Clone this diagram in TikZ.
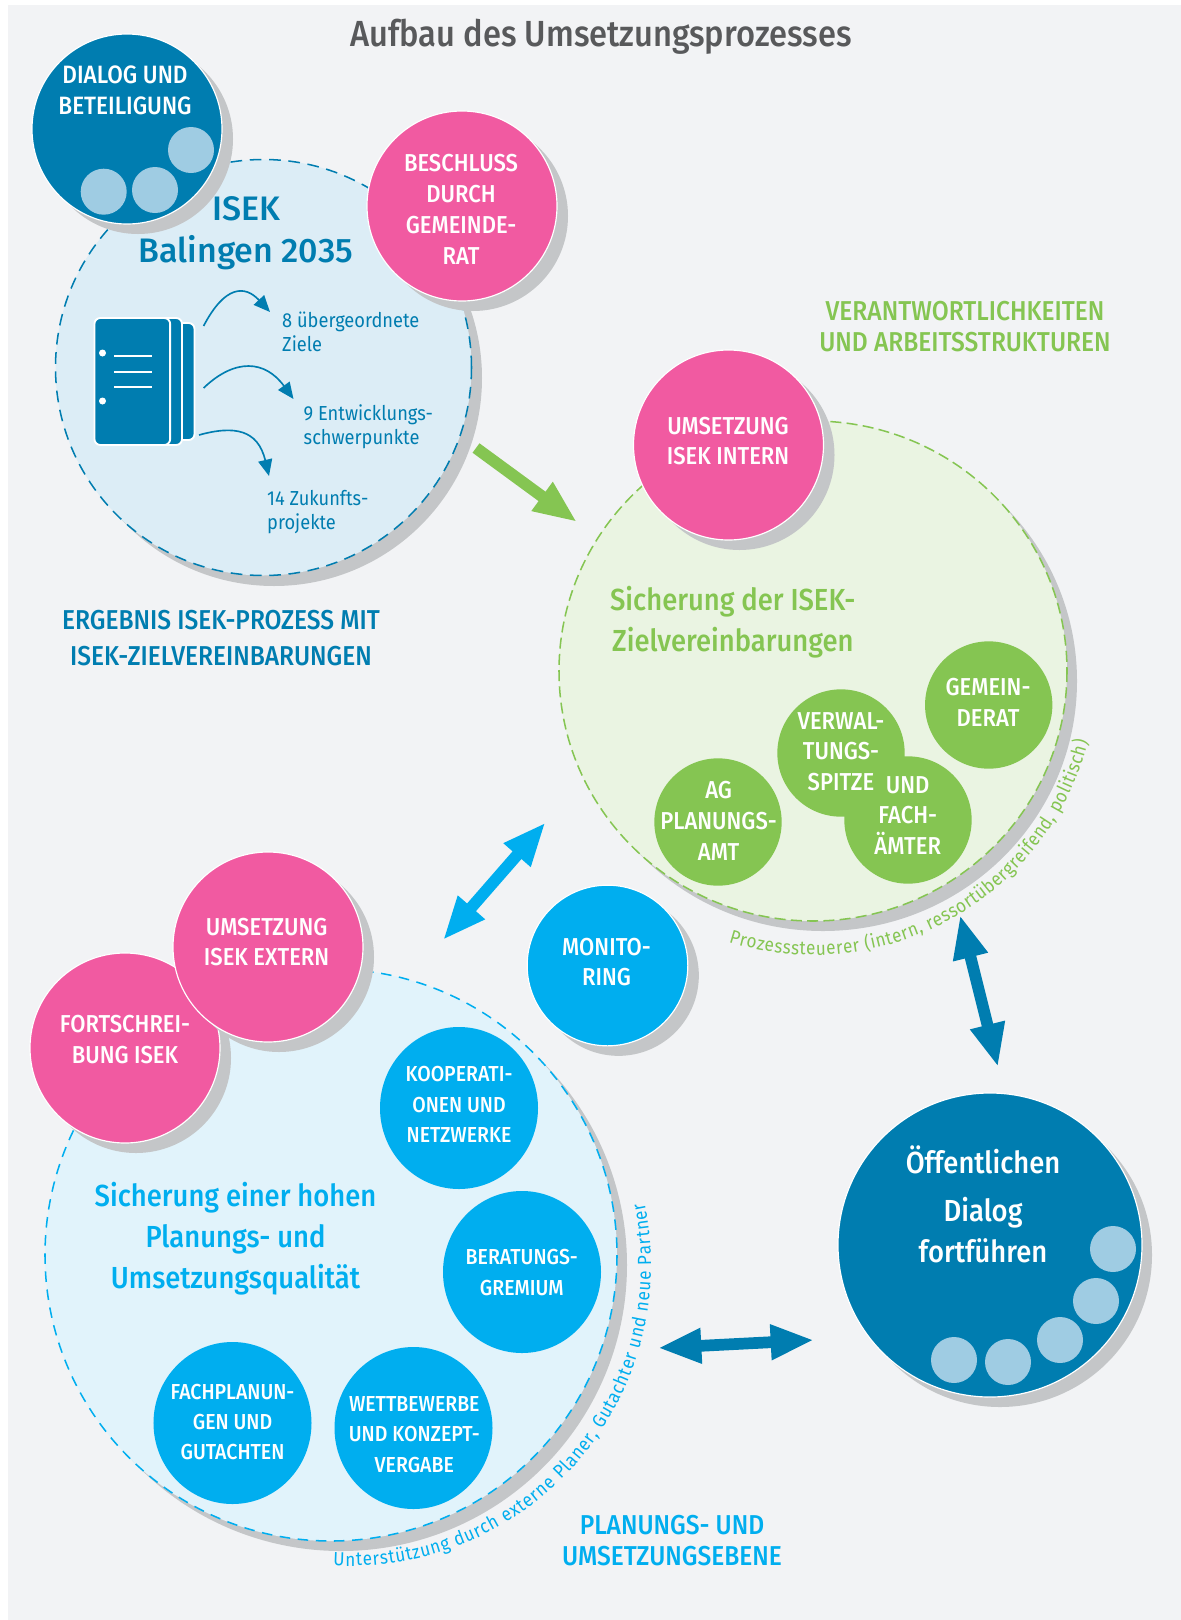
\documentclass[tikz,border=0pt]{standalone}
\usepackage{fontspec}
\setmainfont{Fira Sans}
\newfontfamily\medfont{Fira Sans Medium}[FakeStretch=0.9]
\newfontfamily\medplain{Fira Sans Medium}
\newfontfamily\lightfont{Fira Sans}[FakeStretch=0.9]
\usetikzlibrary{shadows,arrows.meta,decorations.text,shapes.geometric}
\definecolor{pagebg}{HTML}{F2F3F5}
\definecolor{dblue}{HTML}{007DB0}
\definecolor{pale}{HTML}{9FCCE3}
\definecolor{isekbg}{HTML}{DCEDF6}
\definecolor{pinkc}{HTML}{F15AA1}
\definecolor{greenc}{HTML}{85C552}
\definecolor{greenbg}{HTML}{EAF4E2}
\definecolor{cyanc}{HTML}{00AEEF}
\definecolor{cyanbg}{HTML}{E1F3FB}
\definecolor{shadowc}{HTML}{C4C6C8}
\definecolor{titlec}{HTML}{58595B}
\newcommand{\disccaps}{\medfont\fontsize{20.9}{26.4}\selectfont}
\newcommand{\cyancaps}{\medfont\fontsize{18.5}{26}\selectfont}
\newcommand{\headcaps}{\medfont\fontsize{23.3}{26.4}\selectfont}
\newcommand{\headfont}{\medfont\fontsize{26}{35}\selectfont}
\newcommand{\bodyfont}{\lightfont\fontsize{17.3}{20.5}\selectfont}
\newcommand{\curvefont}{\lightfont\fontsize{16.2}{20}\selectfont}
\tikzset{
  x=0.03cm,y=-0.03cm,
  bigdisc/.style={circle,inner sep=0pt,minimum size=5.7cm,draw=white,line width=1pt,
    copy shadow={shadow xshift=0.33cm,shadow yshift=-0.3cm,fill=shadowc,draw=none}},
  meddisc/.style={circle,inner sep=0pt,minimum size=4.82cm,draw=white,line width=1pt,
    copy shadow={shadow xshift=0.33cm,shadow yshift=-0.3cm,fill=shadowc,draw=none}},
  hugedisc/.style={circle,inner sep=0pt,minimum size=9.12cm,draw=white,line width=1pt,fill=dblue,
    copy shadow={shadow xshift=0.3cm,shadow yshift=-0.3cm,fill=shadowc,draw=none}},
  greendisc/.style={circle,inner sep=0pt,minimum size=3.82cm,fill=greenc},
  cyandisc/.style={ellipse,inner sep=0pt,fill=cyanc,minimum width=4.74cm,minimum height=4.86cm},
  dot/.style={circle,inner sep=0pt,minimum size=1.38cm,fill=pale},
  disclabel/.style={text=white,align=center,font=\disccaps,inner sep=0pt},
  cyanlabel/.style={text=white,align=center,font=\cyancaps,inner sep=0pt},
  areadash/.style={line width=1.3pt,dash pattern=on #1},
  heading/.style={align=center,font=\headcaps},
  subhead/.style={font=\headfont,align=left,anchor=west},
  bodytxt/.style={font=\bodyfont,text=dblue,align=left,anchor=north west,inner sep=0pt},
  thinarrow/.style={draw=dblue,line width=1.4pt,-{Triangle[length=14pt,width=12pt]}},
  fatgreen/.style={draw=greenc,line width=10pt,-{Triangle[length=37pt,width=28pt]}},
  fatboth/.style={line width=10pt,{Triangle[length=37pt,width=28pt]}-{Triangle[length=37pt,width=28pt]}},
  page/.style={draw=white,line width=1.6pt,fill=dblue,rounded corners=5pt},
}
\begin{document}
\begin{tikzpicture}
\useasboundingbox (0,0) rectangle (1181,1620);
\fill[white] (0,0) rectangle (1181,1620);
\fill[pagebg] (8,5) rectangle (1181,1620);
\node[font=\medfont\fontsize{31}{36}\selectfont,text=titlec] (title) at (601,37) {Aufbau des Umsetzungsprozesses};

% ISEK area
\fill[shadowc] (274,378) circle[radius=208];
\draw[areadash=10pt off 6.5pt,draw=dblue,fill=isekbg] (263.5,367.5) circle[radius=208];
\node[bigdisc,fill=dblue] (dialog) at (127,129) {};
\node[disclabel,font=\medfont\fontsize{21.4}{26.4}\selectfont] (dialogt) at (125,90.5) {DIALOG UND\\BETEILIGUNG};
\node[dot] (d1) at (191,150) {};
\node[dot] (d2) at (103.7,191.7) {};
\node[dot] (d3) at (155,190) {};
\node[bigdisc,fill=pinkc] (beschluss) at (462,206) {};
\node[disclabel] (beschlusst) at (461,209.7) {BESCHLUSS\\DURCH\\GEMEINDE-\\RAT};
\node[font=\medplain\fontsize{29}{36}\selectfont,text=dblue,align=center] (isek) at (246,233) {ISEK\\Balingen 2035};
% document icon
\draw[page] (120,323) rectangle (194.5,440);
\draw[page] (108,318) rectangle (182,445);
\node[page,inner sep=0pt,minimum width=2.27cm,minimum height=3.81cm] (doc) at (132.3,381.5) {};
\foreach \yy in {356,372,387} \draw[white,line width=1.4pt] (114,\yy) -- (152,\yy);
\fill[white] (102.5,353) circle[radius=3.5];
\fill[white] (102.5,401) circle[radius=3.5];
\node[bodytxt] (t8) at (282,312) {8 übergeordnete\\Ziele};
\node[bodytxt] (t9) at (303.5,404) {9 Entwicklungs-\\schwerpunkte};
\node[bodytxt] (t14) at (267,490) {14 Zukunfts-\\projekte};
\coordinate (c1s) at (203.6,326); \coordinate (c1e) at (270,312);
\coordinate (c2s) at (203.6,388); \coordinate (c2e) at (293.5,399);
\coordinate (c3s) at (199,435);  \coordinate (c3e) at (269,476);
\draw[thinarrow] (c1s) .. controls (225,285) and (245,285) .. (c1e);
\draw[thinarrow] (c2s) .. controls (235,358) and (265,360) .. (c2e);
\draw[thinarrow] (c3s) .. controls (235,425) and (258,430) .. (c3e);
\node[heading,text=dblue] (ergebnis) at (221,638) {ERGEBNIS ISEK-PROZESS MIT\\[5pt]ISEK-ZIELVEREINBARUNGEN};

% green area
\node[heading,text=greenc] (verant) at (965,327) {VERANTWORTLICHKEITEN\\UND ARBEITSSTRUKTUREN};
\fill[shadowc] (823,681) ellipse[x radius=254,y radius=250];
\draw[areadash=9.4pt off 4.5pt,draw=greenc,fill=greenbg] (813,671) ellipse[x radius=254,y radius=250];
\node[bigdisc,fill=pinkc] (intern) at (728.5,445) {};
\node[disclabel] (internt) at (728,441) {UMSETZUNG\\ISEK INTERN};
\node[subhead,text=greenc] (sich1) at (606,602) {Sicherung der ISEK-};
\node[subhead,text=greenc] (sich2) at (608,643) {Zielvereinbarungen};
\node[greendisc] (gemein) at (988.7,705) {};
\node[disclabel] (gemeint) at (988,702.6) {GEMEIN-\\DERAT};
\node[greendisc] (verwal) at (841,753) {};
\node[greendisc] (fach) at (908,820) {};
\node[disclabel] (verwalt) at (841,751.7) {VERWAL-\\TUNGS-\\SPITZE};
\node[disclabel] (facht) at (907.7,815.5) {UND\\FACH-\\ÄMTER};
\node[greendisc] (ag) at (718,822) {};
\node[disclabel] (agt) at (718.6,820.9) {AG\\PLANUNGS-\\AMT};
\path[decorate,decoration={text along path,text align=fit to path,text={|\curvefont\color{greenc}|Prozesssteuerer (intern, ressortübergreifend, politisch)}}]
  ([shift={(107.3:284)}]813,671) arc[start angle=107.3,end angle=14.4,radius=284];

% monitoring
\node[meddisc,fill=cyanc] (monito) at (607.5,965.5) {};
\node[disclabel] (monitot) at (606.5,962) {MONITO-\\RING};

% cyan area
\fill[shadowc] (341,1265) circle[radius=286];
\draw[areadash=9pt off 6.5pt,draw=cyanc,fill=cyanbg] (331,1255) circle[radius=286];
\node[bigdisc,fill=pinkc] (fort) at (125,1048) {};
\node[disclabel] (fortt) at (125,1039.4) {FORTSCHREI-\\BUNG ISEK};
\node[bigdisc,fill=pinkc] (extern) at (268,947) {};
\node[disclabel] (externt) at (266.6,942) {UMSETZUNG\\ISEK EXTERN};
\node[cyandisc] (koop) at (459,1108) {};
\node[cyanlabel] (koopt) at (459,1104.5) {KOOPERATI-\\ONEN UND\\NETZWERKE};
\node[cyandisc] (berat) at (522,1272) {};
\node[cyanlabel] (beratt) at (521.8,1272.4) {BERATUNGS-\\GREMIUM};
\node[cyandisc] (wett) at (413.5,1428) {};
\node[cyanlabel] (wettt) at (414.3,1434.6) {WETTBEWERBE\\UND KONZEPT-\\VERGABE};
\node[cyandisc] (fachpl) at (232.5,1423) {};
\node[cyanlabel] (fachplt) at (232.5,1422) {FACHPLANUN-\\GEN UND\\GUTACHTEN};
\node[font=\headfont,text=cyanc,align=center] (sich3) at (235.5,1238.5) {Sicherung einer hohen\\Planungs- und\\Umsetzungsqualität};
\path[decorate,decoration={text along path,text align=fit to path,text={|\curvefont\color{cyanc}|Unterstützung durch externe Planer, Gutachter und neue Partner}}]
  ([shift={(93.2:301)}]350,1265) arc[start angle=93.2,end angle=-11.9,radius=301];
\node[heading,text=cyanc] (planung) at (672,1541) {PLANUNGS- UND\\UMSETZUNGSEBENE};

% public dialogue
\node[hugedisc] (public) at (990,1245) {};
\node[font=\headfont,text=white] (pub1) at (983,1160) {Öffentlichen};
\node[font=\headfont,text=white] (pub2) at (983,1213) {Dialog};
\node[font=\headfont,text=white] (pub3) at (983,1251) {fortführen};
\node[dot] (p1) at (1113,1249) {};
\node[dot] (p2) at (1096,1301) {};
\node[dot] (p3) at (1060,1340) {};
\node[dot] (p4) at (1008,1362) {};
\node[dot] (p5) at (954,1360) {};

% big arrows
\coordinate (a1) at (476,448); \coordinate (a2) at (577,522);
\draw[fatgreen] (a1) -- (a2);
\coordinate (b1) at (443,940); \coordinate (b2) at (545.5,822.5);
\draw[fatboth,draw=cyanc] (b1) -- (b2);
\coordinate (e1) at (960,915); \coordinate (e2) at (998,1067);
\draw[fatboth,draw=dblue] (e1) -- (e2);
\coordinate (f1) at (658,1348); \coordinate (f2) at (814,1340);
\draw[fatboth,draw=dblue] (f1) -- (f2);
\end{tikzpicture}
\end{document}
